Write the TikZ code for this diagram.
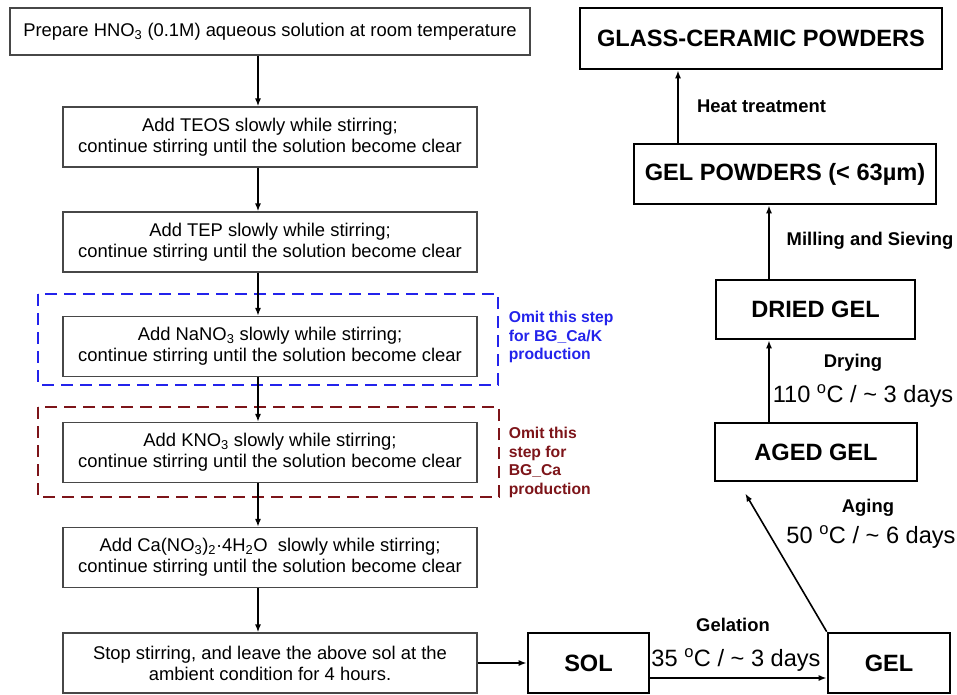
\documentclass[tikz,border=0pt]{standalone}
\usepackage{fontspec}
\setmainfont{Liberation Sans}
\usepackage{xcolor}
\usetikzlibrary{arrows.meta}
\definecolor{omitblue}{RGB}{35,35,235}
\definecolor{omitbrown}{RGB}{125,20,25}
\tikzset{every picture/.style={line width=1.6pt}}
\tikzset{
	stepbox/.style={draw=black!72, line width=1.1pt, minimum width=414pt, minimum height=60pt, inner sep=0pt, align=center, font=\fontsize{18.4}{21}\selectfont},
	stagebox/.style={draw=black, line width=2.6pt, minimum height=60pt, inner sep=0pt, font=\bfseries\fontsize{23.6}{26}\selectfont},
	arr/.style={-{Latex[length=8pt,width=6pt]}, line width=1.6pt},
	lab/.style={inner sep=0pt, font=\bfseries\fontsize{18.4}{21}\selectfont},
	cond/.style={inner sep=0pt, font=\fontsize{23.6}{26}\selectfont},
	note/.style={anchor=west, inner sep=0pt, align=left, font=\bfseries\fontsize{15.7}{18.5}\selectfont},
	omit/.style={line width=2pt, dash pattern=on 12pt off 7pt}
}
\newcommand{\degc}{\textsuperscript{o}C}

\begin{document}
\begin{tikzpicture}[x=1pt,y=-1pt]
\useasboundingbox (0,0) rectangle (957,695);
%
\node[stepbox, minimum width=520pt, minimum height=47pt] (s1) at (270,31.5) {Prepare HNO\textsubscript{3} (0.1M) aqueous solution at room temperature};
\node[stepbox] (s2) at (270,137) {Add TEOS slowly while stirring;\\continue stirring until the solution become clear};
\node[stepbox] (s3) at (270,242) {Add TEP slowly while stirring;\\continue stirring until the solution become clear};
\node[stepbox] (s4) at (270,346.5) {Add NaNO\textsubscript{3} slowly while stirring;\\continue stirring until the solution become clear};
\node[stepbox] (s5) at (270,452.5) {Add KNO\textsubscript{3} slowly while stirring;\\continue stirring until the solution become clear};
\node[stepbox] (s6) at (270,557.5) {Add Ca(NO\textsubscript{3})\textsubscript{2}·4H\textsubscript{2}O\ \ slowly while stirring;\\continue stirring until the solution become clear};
\node[stepbox] (s7) at (270,663) {Stop stirring, and leave the above sol at the\\ambient condition for 4 hours.};
%
\draw[omitblue, omit] (38,294) rectangle (498,385);
\draw[omitbrown, omit] (38,407) rectangle (499,497);
\node[note, text=omitblue] (na) at (508,337) {Omit this step\\for BG\_Ca/K\\production};
\node[note, text=omitbrown] (k) at (508,462.5) {Omit this\\step for\\BG\_Ca\\production};
%
\node[stagebox, minimum width=121pt] (sol) at (588.5,663) {SOL};
\node[stagebox, minimum width=122pt] (gel) at (889,663) {GEL};
\node[stagebox, minimum width=202pt, minimum height=58pt] (aged) at (816,452) {AGED GEL};
\node[stagebox, minimum width=199pt, minimum height=59pt] (dried) at (815.5,309.5) {DRIED GEL};
\node[stagebox, minimum width=302pt] (powd) at (785,174) {GEL POWDERS (< 63µm)};
\node[stagebox, minimum width=362pt, minimum height=61pt] (glass) at (761,38.5) {GLASS-CERAMIC POWDERS};
%
\coordinate (col) at (258,0);
\coordinate (ax) at (769,0);
\coordinate (hx) at (678,0);
%
\foreach \Source/\Target in {%
	s1/s2,
	s2/s3,
	s3/s4,
	s4/s5,
	s5/s6,
	s6/s7%
    }
\draw[arr] (\Source.south -| col) to (\Target.north -| col);
%
\draw[arr] (s7) to (sol);
\draw[arr] ([yshift=-15pt]sol.east) to ([yshift=-15pt]gel.west);
\draw[arr, shorten >=13pt] (gel.north west) to ([xshift=25pt]aged.south west);
\draw[arr] (aged.north -| ax) to (dried.south -| ax);
\draw[arr] (dried.north -| ax) to (powd.south -| ax);
\draw[arr] (powd.north -| hx) to (glass.south -| hx);
%
\node[lab] (gelation) at (733,625) {Gelation};
\node[cond] (gelcond) at (736,660) {35 \degc{} / \textasciitilde{} 3 days};
\node[lab] (aging) at (868,508) {Aging};
\node[cond] (agecond) at (871,537) {50 \degc{} / \textasciitilde{} 6 days};
\node[lab] (drying) at (853,363) {Drying};
\node[cond] (drycond) at (863,396) {110 \degc{} / \textasciitilde{} 3 days};
\node[lab] (milling) at (870,241) {Milling and Sieving};
\node[lab] (heat) at (761.5,106) {Heat treatment};
\end{tikzpicture}
\end{document}
